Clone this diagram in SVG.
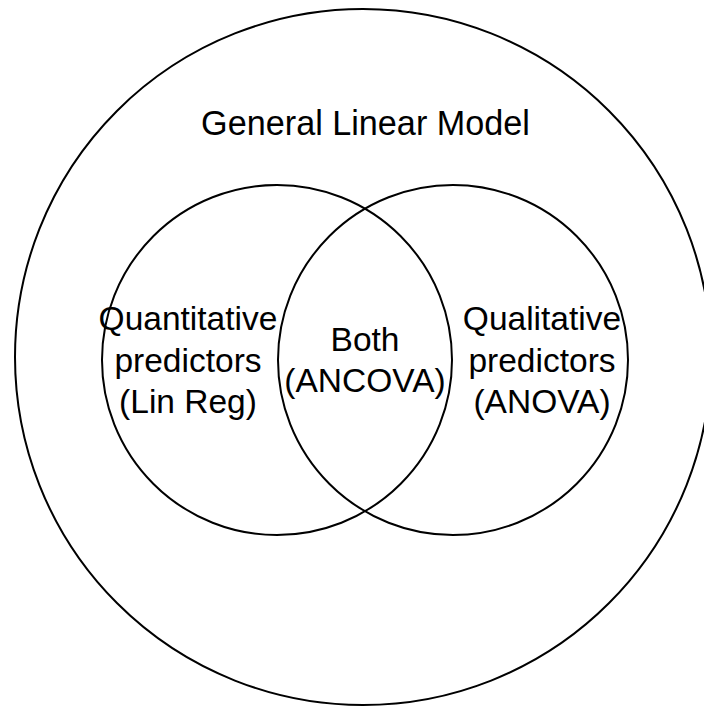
<svg xmlns="http://www.w3.org/2000/svg" width="704" height="709" viewBox="0 0 704 709">
<style>
.c{fill:none;stroke:#000;stroke-width:2}
text{font-family:"Liberation Sans",Arial,sans-serif;font-size:33.5px;fill:#000;text-anchor:middle}
</style>
<rect width="704" height="709" fill="#fff"/>
<g id="glm">
<circle class="c" cx="363" cy="357" r="348"/>
<text x="365.5" y="135" style="font-size:34.2px">General Linear Model</text>
</g>
<g id="linreg">
<circle class="c" cx="277" cy="360" r="175"/>
<text x="188" y="330">Quantitative</text>
<text x="188" y="371.5">predictors</text>
<text x="188" y="413">(Lin Reg)</text>
</g>
<g id="anova">
<circle class="c" cx="453" cy="360" r="175"/>
<text x="542" y="330">Qualitative</text>
<text x="542" y="371.5">predictors</text>
<text x="542" y="413">(ANOVA)</text>
</g>
<g id="ancova">
<text x="365" y="351">Both</text>
<text x="365" y="392">(ANCOVA)</text>
</g>
<g id="connectors"></g>
</svg>
